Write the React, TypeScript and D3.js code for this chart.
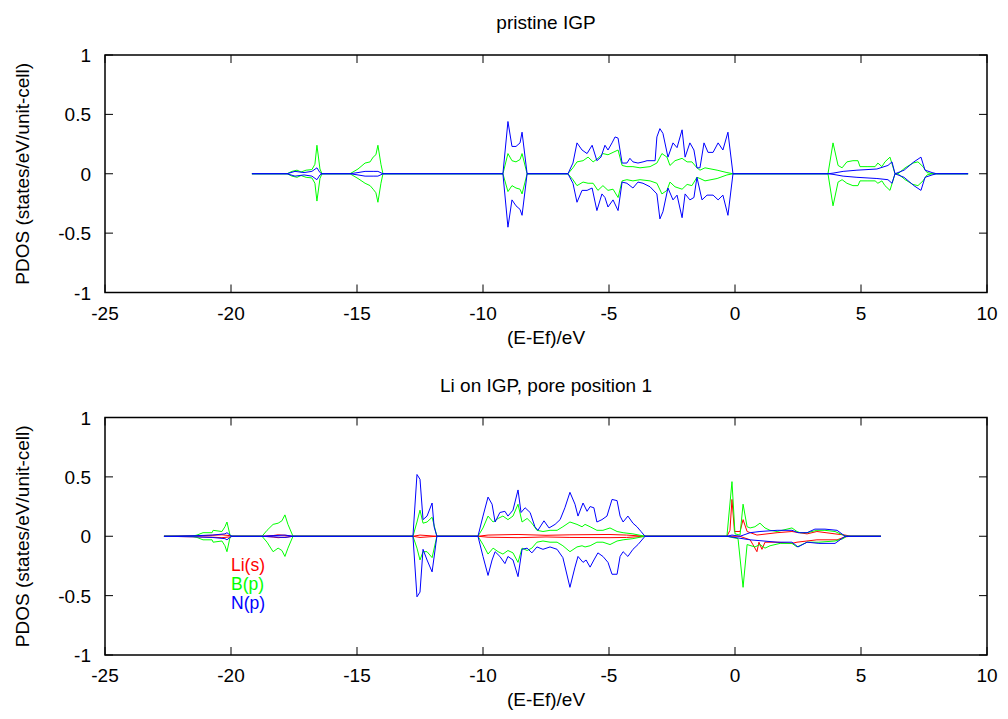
import React from 'react';
import * as d3 from 'd3';

type Pt = [number, number];

const xTicks = [-25, -20, -15, -10, -5, 0, 5, 10];
const yTicks = [-1, -0.5, 0, 0.5, 1];
const panelTitles = ['pristine IGP', 'Li on IGP, pore position 1'];
const xLabel = '(E-Ef)/eV';
const yLabel = 'PDOS (states/eV/unit-cell)';
const legendLabels = ['Li(s)', 'B(p)', 'N(p)'];
const seriesColors = ['#ff0000', '#00ff00', '#0000ff'];

// ---- pristine IGP ----
const topBUp: Pt[] = [[-19.17,0],[-17.78,0],[-17.58,0.02],[-17.38,0.03],[-17.22,0.015],[-17.02,0.03],[-16.79,0.035],[-16.67,0.08],[-16.59,0.24],[-16.47,0.04],[-16.39,0],[-15.28,0],[-14.96,0.04],[-14.68,0.09],[-14.48,0.10],[-14.36,0.14],[-14.25,0.16],[-14.17,0.24],[-14.05,0.08],[-13.97,0],[-9.21,0],[-9.01,0.17],[-8.85,0.11],[-8.69,0.10],[-8.53,0.12],[-8.45,0.17],[-8.25,0],[-6.63,0],[-6.43,0.05],[-6.27,0.10],[-6.03,0.11],[-5.83,0.14],[-5.63,0.10],[-5.44,0.13],[-5.24,0.17],[-5.04,0.16],[-4.84,0.18],[-4.64,0.20],[-4.48,0.07],[-4.29,0.06],[-4.05,0.06],[-3.77,0.05],[-3.37,0.06],[-3.10,0.09],[-2.90,0.17],[-2.70,0.14],[-2.58,0.07],[-2.38,0.11],[-2.10,0.13],[-1.90,0.10],[-1.71,0.10],[-1.51,0.05],[-1.39,0.03],[-1.19,0.05],[-0.71,0.03],[-0.32,0.01],[-0.08,0],[3.69,0],[3.89,0.26],[4.09,0.07],[4.25,0.05],[4.44,0.10],[4.68,0.11],[4.88,0.11],[4.96,0.06],[5.24,0.06],[5.56,0.06],[5.67,0.09],[5.83,0.06],[5.95,0.10],[6.15,0.14],[6.35,0],[6.47,0],[6.75,0.05],[7.06,0.09],[7.26,0.10],[7.46,0.06],[7.62,0.01],[7.82,0],[9.25,0]];
const topBDown: Pt[] = [[-19.17,0],[-17.78,0],[-17.58,-0.02],[-17.38,-0.03],[-17.22,-0.015],[-17.02,-0.03],[-16.79,-0.035],[-16.67,-0.08],[-16.59,-0.23],[-16.47,-0.04],[-16.39,0],[-15.28,0],[-14.96,-0.04],[-14.68,-0.08],[-14.48,-0.10],[-14.36,-0.13],[-14.25,-0.16],[-14.17,-0.24],[-14.05,-0.08],[-13.97,0],[-9.21,0],[-9.01,-0.15],[-8.85,-0.10],[-8.69,-0.12],[-8.53,-0.13],[-8.45,-0.17],[-8.25,0],[-6.63,0],[-6.43,-0.05],[-6.27,-0.10],[-6.03,-0.07],[-5.83,-0.08],[-5.63,-0.08],[-5.44,-0.14],[-5.24,-0.10],[-5.04,-0.14],[-4.84,-0.13],[-4.64,-0.20],[-4.48,-0.06],[-4.29,-0.05],[-4.05,-0.06],[-3.77,-0.05],[-3.37,-0.06],[-3.10,-0.08],[-2.90,-0.17],[-2.70,-0.14],[-2.58,-0.07],[-2.38,-0.11],[-2.10,-0.13],[-1.90,-0.09],[-1.71,-0.10],[-1.51,-0.03],[-1.39,-0.04],[-1.19,-0.06],[-0.71,-0.04],[-0.32,-0.01],[-0.08,0],[3.69,0],[3.89,-0.27],[4.09,-0.07],[4.25,-0.05],[4.44,-0.08],[4.68,-0.10],[4.88,-0.10],[4.96,-0.06],[5.24,-0.06],[5.56,-0.06],[5.67,-0.08],[5.83,-0.06],[5.95,-0.10],[6.15,-0.14],[6.35,0],[6.47,0],[6.75,-0.05],[7.06,-0.09],[7.26,-0.10],[7.46,-0.06],[7.62,-0.01],[7.82,0],[9.25,0]];
const topNUp: Pt[] = [[-19.17,0],[-17.78,0],[-17.46,0.02],[-17.1,0.01],[-16.79,0.02],[-16.59,0.05],[-16.47,0.01],[-16.39,0],[-15.28,0],[-14.96,0.01],[-14.68,0.02],[-14.36,0.02],[-14.17,0.02],[-13.97,0],[-9.21,0],[-9.01,0.44],[-8.85,0.23],[-8.69,0.23],[-8.53,0.26],[-8.45,0.35],[-8.25,0],[-6.63,0],[-6.43,0.09],[-6.27,0.26],[-6.07,0.20],[-5.87,0.17],[-5.67,0.24],[-5.48,0.11],[-5.32,0.14],[-5.16,0.24],[-5.04,0.20],[-4.88,0.26],[-4.76,0.31],[-4.64,0.30],[-4.48,0.09],[-4.29,0.09],[-4.17,0.13],[-4.05,0.10],[-3.85,0.09],[-3.65,0.10],[-3.49,0.11],[-3.17,0.11],[-3.10,0.31],[-2.98,0.38],[-2.86,0.34],[-2.66,0.14],[-2.46,0.26],[-2.30,0.22],[-2.10,0.37],[-1.98,0.14],[-1.79,0.26],[-1.63,0.20],[-1.51,0.05],[-1.39,0.05],[-1.23,0.26],[-1.07,0.18],[-0.87,0.18],[-0.67,0.26],[-0.48,0.20],[-0.28,0.35],[-0.08,0],[3.69,0],[3.89,0.005],[4.29,0.02],[4.84,0.03],[5.63,0.04],[6.07,0.07],[6.23,0.10],[6.35,0],[6.71,0.03],[7.10,0.10],[7.38,0.14],[7.54,0.03],[7.82,0.01],[8.0,0],[9.25,0]];
const topNDown: Pt[] = [[-19.17,0],[-17.78,0],[-17.46,-0.02],[-17.1,-0.01],[-16.79,-0.02],[-16.59,-0.05],[-16.47,-0.01],[-16.39,0],[-15.28,0],[-14.96,-0.01],[-14.68,-0.02],[-14.36,-0.02],[-14.17,-0.02],[-13.97,0],[-9.21,0],[-9.01,-0.45],[-8.85,-0.22],[-8.69,-0.27],[-8.53,-0.30],[-8.45,-0.35],[-8.25,0],[-6.63,0],[-6.43,-0.08],[-6.27,-0.24],[-6.07,-0.14],[-5.87,-0.14],[-5.67,-0.12],[-5.48,-0.31],[-5.28,-0.17],[-5.16,-0.20],[-5.04,-0.28],[-4.84,-0.22],[-4.64,-0.31],[-4.48,-0.07],[-4.29,-0.08],[-4.05,-0.12],[-3.85,-0.07],[-3.65,-0.08],[-3.37,-0.11],[-3.10,-0.17],[-2.98,-0.38],[-2.86,-0.32],[-2.66,-0.12],[-2.46,-0.22],[-2.30,-0.18],[-2.10,-0.37],[-1.98,-0.17],[-1.79,-0.22],[-1.63,-0.20],[-1.51,-0.03],[-1.31,-0.22],[-1.11,-0.18],[-0.87,-0.18],[-0.67,-0.22],[-0.48,-0.18],[-0.28,-0.35],[-0.08,0],[3.69,0],[3.89,-0.005],[4.29,-0.02],[4.84,-0.03],[5.63,-0.04],[6.07,-0.05],[6.23,-0.08],[6.35,0],[6.71,-0.03],[7.10,-0.10],[7.38,-0.14],[7.54,-0.03],[7.82,-0.01],[8.0,0],[9.25,0]];

// ---- Li on IGP, pore position 1 ----
const botLiUp: Pt[] = [[-22.66,0],[-21.35,0.005],[-20.75,0.008],[-20.36,0.012],[-20.04,0.005],[-19.96,0],[-18.77,0],[-18.33,0.006],[-18.13,0.012],[-17.74,0.006],[-17.54,0],[-12.78,0],[-12.50,0.01],[-11.83,0],[-10.20,0],[-9.80,0.01],[-8.61,0.015],[-7.50,0.008],[-6.55,0.012],[-5.00,0.015],[-4.30,0.01],[-3.57,0],[-0.32,0],[-0.20,0.05],[-0.12,0.31],[-0.02,0.04],[0.20,0.04],[0.32,0.14],[0.48,0.04],[0.87,0.01],[1.67,0.03],[2.26,0.04],[2.86,0.02],[3.25,0.04],[3.97,0.02],[4.37,0.01],[4.60,0],[5.79,0]];
const botLiDown: Pt[] = [[-22.66,0],[-21.35,-0.005],[-20.75,-0.008],[-20.36,-0.012],[-20.04,-0.005],[-19.96,0],[-18.77,0],[-18.33,-0.006],[-18.13,-0.012],[-17.74,-0.006],[-17.54,0],[-12.78,0],[-12.50,-0.01],[-11.83,0],[-10.20,0],[-9.80,-0.008],[-8.61,-0.012],[-7.50,-0.006],[-6.55,-0.01],[-5.00,-0.012],[-4.30,-0.01],[-3.57,0],[-0.32,0],[0.20,0],[0.32,-0.01],[0.60,-0.03],[0.71,-0.07],[0.87,-0.13],[0.95,-0.05],[1.07,-0.11],[1.19,-0.05],[1.67,-0.05],[2.26,-0.06],[2.46,-0.05],[3.25,-0.03],[4.05,-0.03],[4.37,-0.005],[4.60,0],[5.79,0]];
const botBUp: Pt[] = [[-22.66,0],[-21.55,0],[-21.35,0.01],[-21.11,0.03],[-20.75,0.03],[-20.71,0.05],[-20.36,0.04],[-20.24,0.08],[-20.16,0.12],[-20.04,0.01],[-19.96,0],[-18.77,0],[-18.57,0.05],[-18.33,0.10],[-18.13,0.11],[-17.98,0.13],[-17.86,0.18],[-17.74,0.10],[-17.54,0],[-12.78,0],[-12.62,0.12],[-12.50,0.22],[-12.38,0.11],[-12.22,0.12],[-12.02,0.16],[-11.83,0],[-10.20,0],[-10.00,0.07],[-9.80,0.17],[-9.60,0.12],[-9.40,0.15],[-9.21,0.17],[-9.01,0.14],[-8.81,0.17],[-8.61,0.27],[-8.45,0.12],[-8.25,0.15],[-8.06,0.11],[-7.86,0.05],[-7.62,0.04],[-7.34,0.05],[-7.06,0.05],[-6.83,0.08],[-6.55,0.12],[-6.27,0.10],[-6.07,0.08],[-5.95,0.10],[-5.75,0.08],[-5.48,0.05],[-5.24,0.05],[-4.96,0.07],[-4.68,0.04],[-4.44,0.03],[-4.05,0.02],[-3.57,0],[-0.32,0],[-0.12,0.46],[0.0,0.02],[0.20,0.01],[0.32,0.27],[0.48,0.08],[0.60,0.07],[0.79,0.08],[0.99,0.11],[1.19,0.07],[1.39,0.05],[1.67,0.04],[2.26,0.07],[2.46,0.04],[2.58,0.03],[2.86,0.03],[3.25,0.05],[3.57,0.05],[3.97,0.04],[4.29,0.01],[4.44,0],[5.79,0]];
const botBDown: Pt[] = [[-22.66,0],[-21.55,0],[-21.35,-0.01],[-21.11,-0.03],[-20.75,-0.03],[-20.71,-0.05],[-20.36,-0.04],[-20.24,-0.08],[-20.16,-0.13],[-20.04,-0.01],[-19.96,0],[-18.77,0],[-18.57,-0.05],[-18.33,-0.13],[-18.13,-0.10],[-17.98,-0.12],[-17.86,-0.17],[-17.74,-0.10],[-17.54,0],[-12.78,0],[-12.62,-0.10],[-12.50,-0.20],[-12.38,-0.13],[-12.22,-0.13],[-12.02,-0.18],[-11.83,0],[-10.20,0],[-10.00,-0.07],[-9.80,-0.15],[-9.60,-0.10],[-9.40,-0.13],[-9.21,-0.15],[-9.01,-0.12],[-8.81,-0.14],[-8.61,-0.22],[-8.45,-0.10],[-8.25,-0.12],[-8.06,-0.10],[-7.86,-0.05],[-7.62,-0.04],[-7.34,-0.05],[-7.06,-0.05],[-6.83,-0.08],[-6.55,-0.13],[-6.27,-0.09],[-6.07,-0.08],[-5.95,-0.09],[-5.75,-0.08],[-5.48,-0.05],[-5.24,-0.05],[-4.96,-0.07],[-4.68,-0.04],[-4.44,-0.03],[-4.05,-0.02],[-3.57,0],[-0.32,0],[-0.12,-0.01],[0.12,-0.02],[0.32,-0.43],[0.48,-0.07],[0.79,-0.09],[0.99,-0.07],[1.19,-0.10],[1.39,-0.08],[1.79,-0.06],[2.26,-0.06],[2.46,-0.09],[2.86,-0.05],[3.33,-0.05],[3.97,-0.04],[4.29,-0.02],[4.44,0],[5.79,0]];
const botNUp: Pt[] = [[-22.66,0],[-21.35,0.005],[-20.75,0.01],[-20.24,0.02],[-20.16,0.03],[-20.04,0.01],[-19.96,0],[-18.77,0],[-18.33,0.005],[-17.86,0.01],[-17.54,0],[-12.78,0],[-12.62,0.52],[-12.50,0.48],[-12.38,0.14],[-12.22,0.17],[-12.02,0.28],[-11.94,0.08],[-11.83,0],[-10.20,0],[-10.00,0.17],[-9.80,0.33],[-9.64,0.27],[-9.52,0.12],[-9.33,0.20],[-9.13,0.21],[-9.01,0.17],[-8.81,0.22],[-8.61,0.39],[-8.49,0.20],[-8.33,0.24],[-8.13,0.20],[-7.94,0.08],[-7.82,0.05],[-7.58,0.13],[-7.38,0.07],[-7.14,0.10],[-6.94,0.14],[-6.75,0.24],[-6.55,0.37],[-6.35,0.27],[-6.23,0.17],[-6.03,0.28],[-5.87,0.21],[-5.75,0.25],[-5.60,0.24],[-5.48,0.12],[-5.28,0.14],[-5.08,0.17],[-4.88,0.31],[-4.68,0.30],[-4.56,0.17],[-4.44,0.12],[-4.25,0.17],[-4.05,0.11],[-3.89,0.08],[-3.73,0.04],[-3.57,0],[-0.32,0],[-0.12,0.01],[0.20,0],[0.60,0.03],[0.99,0.04],[1.67,0.05],[2.26,0.05],[2.50,0.03],[2.86,0.03],[3.17,0.06],[3.57,0.06],[4.05,0.05],[4.37,0],[5.79,0]];
const botNDown: Pt[] = [[-22.66,0],[-21.35,-0.005],[-20.75,-0.01],[-20.24,-0.02],[-20.16,-0.03],[-20.04,-0.01],[-19.96,0],[-18.77,0],[-18.33,-0.005],[-17.86,-0.01],[-17.54,0],[-12.78,0],[-12.62,-0.51],[-12.50,-0.47],[-12.38,-0.11],[-12.22,-0.20],[-12.02,-0.30],[-11.83,0],[-10.20,0],[-10.00,-0.17],[-9.80,-0.33],[-9.64,-0.20],[-9.52,-0.13],[-9.33,-0.17],[-9.13,-0.23],[-9.01,-0.17],[-8.81,-0.20],[-8.61,-0.34],[-8.45,-0.11],[-8.25,-0.10],[-8.06,-0.14],[-7.86,-0.09],[-7.62,-0.11],[-7.34,-0.09],[-7.06,-0.11],[-6.83,-0.18],[-6.55,-0.43],[-6.35,-0.26],[-6.23,-0.17],[-6.03,-0.22],[-5.91,-0.20],[-5.75,-0.26],[-5.60,-0.20],[-5.44,-0.14],[-5.24,-0.17],[-5.04,-0.22],[-4.88,-0.32],[-4.68,-0.32],[-4.56,-0.17],[-4.44,-0.13],[-4.25,-0.17],[-4.05,-0.11],[-3.85,-0.07],[-3.57,0],[-0.32,0],[0.60,-0.03],[1.67,-0.05],[2.26,-0.05],[2.50,-0.09],[2.86,-0.05],[3.33,-0.06],[3.97,-0.06],[4.37,0],[5.79,0]];

const FONT = "'Liberation Sans', Arial, Helvetica, sans-serif";
const W = 1008;
const H = 719;
const LEFT = 105;
const RIGHT = 987;

interface Series { color: string; lines: Pt[][] }
interface Panel { top: number; bottom: number; title: string; series: Series[]; legend: boolean }

const panels: Panel[] = [
  {
    top: 55, bottom: 292.5, title: panelTitles[0], legend: false,
    series: [
      { color: seriesColors[1], lines: [topBUp, topBDown] },
      { color: seriesColors[2], lines: [topNUp, topNDown] },
    ],
  },
  {
    top: 417.5, bottom: 655, title: panelTitles[1], legend: true,
    series: [
      { color: seriesColors[0], lines: [botLiUp, botLiDown] },
      { color: seriesColors[1], lines: [botBUp, botBDown] },
      { color: seriesColors[2], lines: [botNUp, botNDown] },
    ],
  },
];

const TICK = 8;

function PanelView({ p }: { p: Panel }) {
  const x = d3.scaleLinear().domain([-25, 10]).range([LEFT, RIGHT]);
  const y = d3.scaleLinear().domain([-1, 1]).range([p.bottom, p.top]);
  const line = d3.line<Pt>().x(d => x(d[0])).y(d => y(d[1]));
  const midY = (p.top + p.bottom) / 2;
  return (
    <g>
      {p.series.map((s, i) =>
        s.lines.map((l, j) => (
          <path key={`${i}-${j}`} d={line(l) || ''} fill="none" stroke={s.color} strokeWidth={1} />
        ))
      )}
      {xTicks.map(t => (
        <g key={`xt${t}`}>
          <line x1={x(t)} x2={x(t)} y1={p.bottom} y2={p.bottom - TICK} stroke="#000" strokeWidth={1} />
          <line x1={x(t)} x2={x(t)} y1={p.top} y2={p.top + TICK} stroke="#000" strokeWidth={1} />
          <text x={x(t)} y={p.bottom + 27} textAnchor="middle" fontSize={19} fontFamily={FONT}>{t}</text>
        </g>
      ))}
      {yTicks.map(t => (
        <g key={`yt${t}`}>
          <line x1={LEFT} x2={LEFT + TICK} y1={y(t)} y2={y(t)} stroke="#000" strokeWidth={1} />
          <line x1={RIGHT} x2={RIGHT - TICK} y1={y(t)} y2={y(t)} stroke="#000" strokeWidth={1} />
          <text x={91} y={y(t) + 7} textAnchor="end" fontSize={19} fontFamily={FONT}>{t}</text>
        </g>
      ))}
      <rect x={LEFT} y={p.top} width={RIGHT - LEFT} height={p.bottom - p.top} fill="none" stroke="#000" strokeWidth={1.5} />
      <text x={(LEFT + RIGHT) / 2} y={p.top - 26} textAnchor="middle" fontSize={19} fontFamily={FONT}>{p.title}</text>
      <text x={(LEFT + RIGHT) / 2} y={p.bottom + 51} textAnchor="middle" fontSize={19} fontFamily={FONT}>{xLabel}</text>
      <text transform={`translate(29,${midY}) rotate(-90)`} textAnchor="middle" fontSize={19} fontFamily={FONT}>{yLabel}</text>
      {p.legend && legendLabels.map((lab, i) => (
        <text key={lab} x={231} y={571 + i * 19} fontSize={17.5} fontFamily={FONT} fill={seriesColors[i]}>{lab}</text>
      ))}
    </g>
  );
}

export default function App() {
  return (
    <svg width={W} height={H} style={{ position: 'absolute', left: 0, top: 0, background: '#fff' }}>
      <rect x={0} y={0} width={W} height={H} fill="#fff" />
      {panels.map((p, i) => <PanelView key={i} p={p} />)}
    </svg>
  );
}
